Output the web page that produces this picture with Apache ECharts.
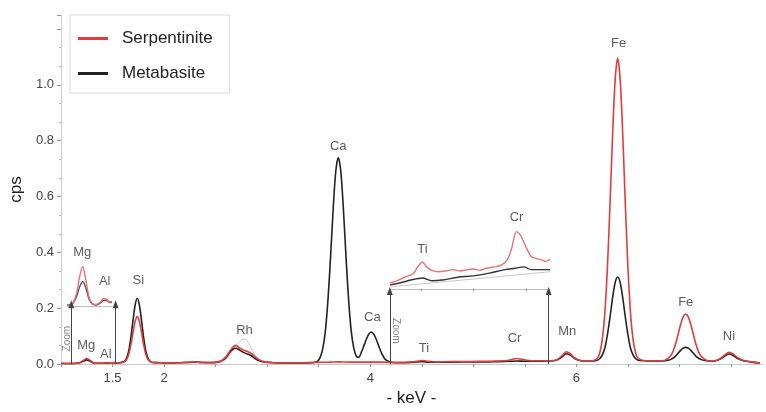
<!DOCTYPE html>
<html><head><meta charset="utf-8">
<script src="https://cdn.jsdelivr.net/npm/echarts@6/dist/echarts.min.js"></script>
<style>html,body{margin:0;background:#fff}#c{width:766px;height:412px}</style>
</head><body><div id="c"></div>
<script>
// ---- main spectra [keV, cps] ----
const serpentinite = [[1.00,0.003],[1.05,0.002],[1.10,0.002],[1.15,0.003],[1.19,0.007],[1.22,0.014],[1.25,0.020],[1.28,0.014],[1.31,0.006],[1.35,0.003],[1.40,0.003],[1.45,0.005],[1.49,0.005],[1.53,0.004],[1.58,0.005],[1.62,0.010],[1.64,0.019],[1.66,0.039],[1.68,0.073],[1.70,0.116],[1.72,0.154],[1.74,0.170],[1.76,0.154],[1.78,0.116],[1.80,0.073],[1.82,0.039],[1.84,0.019],[1.86,0.010],[1.89,0.006],[1.95,0.005],[2.05,0.004],[2.15,0.005],[2.25,0.007],[2.30,0.008],[2.35,0.006],[2.45,0.006],[2.52,0.008],[2.56,0.013],[2.60,0.026],[2.64,0.048],[2.67,0.062],[2.70,0.066],[2.73,0.059],[2.77,0.050],[2.81,0.045],[2.85,0.037],[2.89,0.024],[2.93,0.014],[2.98,0.008],[3.05,0.006],[3.15,0.005],[3.30,0.005],[3.45,0.006],[3.60,0.007],[3.70,0.008],[3.80,0.007],[3.95,0.007],[4.10,0.007],[4.25,0.006],[4.40,0.008],[4.47,0.011],[4.51,0.013],[4.56,0.010],[4.65,0.008],[4.80,0.009],[4.95,0.009],[5.10,0.010],[5.25,0.011],[5.33,0.013],[5.38,0.017],[5.42,0.020],[5.46,0.018],[5.52,0.014],[5.60,0.012],[5.70,0.012],[5.78,0.013],[5.82,0.018],[5.86,0.030],[5.90,0.044],[5.94,0.037],[5.98,0.023],[6.03,0.014],[6.10,0.012],[6.15,0.012],[6.20,0.019],[6.225,0.039],[6.25,0.086],[6.275,0.180],[6.30,0.342],[6.325,0.565],[6.35,0.814],[6.375,1.015],[6.40,1.096],[6.425,1.015],[6.45,0.814],[6.475,0.565],[6.50,0.342],[6.525,0.180],[6.55,0.086],[6.575,0.039],[6.60,0.020],[6.65,0.013],[6.72,0.012],[6.80,0.012],[6.86,0.014],[6.91,0.028],[6.935,0.044],[6.96,0.070],[6.985,0.105],[7.01,0.141],[7.035,0.169],[7.06,0.179],[7.085,0.169],[7.11,0.141],[7.135,0.105],[7.16,0.070],[7.185,0.044],[7.21,0.028],[7.26,0.014],[7.31,0.012],[7.36,0.014],[7.40,0.021],[7.44,0.033],[7.48,0.042],[7.52,0.036],[7.56,0.024],[7.62,0.013],[7.70,0.008],[7.78,0.004]];

const metabasite = [[1.00,0.003],[1.05,0.002],[1.10,0.002],[1.15,0.003],[1.19,0.006],[1.22,0.011],[1.25,0.015],[1.28,0.011],[1.31,0.005],[1.35,0.003],[1.40,0.003],[1.45,0.004],[1.49,0.005],[1.53,0.004],[1.58,0.006],[1.62,0.011],[1.64,0.025],[1.66,0.052],[1.68,0.100],[1.70,0.160],[1.72,0.213],[1.74,0.236],[1.76,0.213],[1.78,0.160],[1.80,0.100],[1.82,0.052],[1.84,0.025],[1.86,0.011],[1.89,0.006],[1.95,0.005],[2.05,0.004],[2.15,0.005],[2.25,0.006],[2.30,0.007],[2.35,0.006],[2.45,0.005],[2.52,0.007],[2.56,0.012],[2.60,0.023],[2.64,0.043],[2.67,0.054],[2.70,0.057],[2.73,0.051],[2.77,0.042],[2.81,0.036],[2.85,0.029],[2.89,0.018],[2.93,0.011],[2.98,0.007],[3.05,0.005],[3.15,0.004],[3.30,0.004],[3.44,0.005],[3.49,0.011],[3.515,0.025],[3.54,0.056],[3.565,0.120],[3.59,0.231],[3.615,0.383],[3.64,0.552],[3.665,0.688],[3.69,0.740],[3.715,0.688],[3.74,0.552],[3.765,0.383],[3.79,0.231],[3.815,0.120],[3.84,0.058],[3.865,0.028],[3.89,0.024],[3.91,0.039],[3.935,0.062],[3.96,0.087],[3.985,0.107],[4.01,0.115],[4.035,0.107],[4.06,0.087],[4.085,0.062],[4.11,0.039],[4.135,0.022],[4.16,0.013],[4.21,0.006],[4.30,0.005],[4.40,0.006],[4.47,0.008],[4.51,0.009],[4.56,0.007],[4.65,0.007],[4.80,0.007],[4.95,0.008],[5.10,0.008],[5.25,0.009],[5.35,0.010],[5.42,0.011],[5.50,0.010],[5.60,0.010],[5.70,0.011],[5.78,0.012],[5.82,0.016],[5.86,0.026],[5.90,0.037],[5.94,0.032],[5.98,0.021],[6.03,0.013],[6.10,0.011],[6.15,0.011],[6.20,0.014],[6.225,0.019],[6.25,0.032],[6.275,0.057],[6.30,0.104],[6.325,0.166],[6.35,0.235],[6.375,0.291],[6.40,0.312],[6.425,0.291],[6.45,0.235],[6.475,0.166],[6.50,0.104],[6.525,0.057],[6.55,0.032],[6.575,0.019],[6.60,0.014],[6.65,0.012],[6.72,0.011],[6.80,0.011],[6.86,0.012],[6.91,0.016],[6.96,0.028],[7.01,0.049],[7.035,0.057],[7.06,0.060],[7.085,0.057],[7.11,0.049],[7.16,0.028],[7.21,0.016],[7.26,0.012],[7.31,0.011],[7.36,0.013],[7.40,0.019],[7.44,0.029],[7.48,0.036],[7.52,0.031],[7.56,0.021],[7.62,0.012],[7.70,0.007],[7.78,0.004]];

const rhReference = [[2.58,0.012],[2.63,0.030],[2.68,0.058],[2.73,0.080],[2.78,0.090],[2.82,0.074],[2.86,0.046],[2.90,0.024],[2.95,0.011]];

// ---- inset 1 (Mg/Al zoom), relative intensity ----
const insetMgSerp = [[1.10,0.02],[1.15,0.04],[1.19,0.24],[1.22,0.58],[1.25,0.79],[1.28,0.52],[1.31,0.18],[1.34,0.05],[1.38,0.03],[1.42,0.08],[1.45,0.15],[1.48,0.13],[1.51,0.08],[1.53,0.10]];
const insetMgMeta = [[1.10,0.02],[1.15,0.04],[1.19,0.18],[1.22,0.38],[1.25,0.49],[1.28,0.36],[1.31,0.14],[1.34,0.04],[1.38,0.02],[1.42,0.06],[1.45,0.11],[1.48,0.11],[1.51,0.07],[1.53,0.08]];

// ---- inset 2 (Ti/Cr zoom), relative intensity ----
const insetCrSerp = [[4.20,0.09],[4.27,0.12],[4.34,0.17],[4.42,0.22],[4.47,0.33],[4.51,0.39],[4.55,0.32],[4.60,0.27],[4.66,0.25],[4.73,0.26],[4.80,0.28],[4.87,0.26],[4.94,0.28],[5.00,0.29],[5.06,0.27],[5.12,0.30],[5.20,0.32],[5.27,0.35],[5.32,0.42],[5.36,0.57],[5.41,0.83],[5.45,0.77],[5.50,0.61],[5.55,0.47],[5.60,0.44],[5.65,0.42],[5.69,0.40],[5.73,0.43]];
const insetCrMeta = [[4.20,0.06],[4.30,0.09],[4.40,0.13],[4.51,0.16],[4.60,0.12],[4.70,0.13],[4.85,0.17],[5.00,0.19],[5.15,0.23],[5.30,0.28],[5.40,0.30],[5.48,0.32],[5.55,0.28],[5.65,0.28],[5.73,0.28]];
const insetCrBackground = [[4.20,0.03],[5.73,0.25]];

// ---- ticks, labels ----
const xTickLabels = ['1.5','2','4','6'];
const yTickLabels = ['0.0','0.2','0.4','0.6','0.8','1.0'];
const peakLabels = [['Mg',1.245,0.068],['Al',1.435,0.036],['Si',1.75,0.30],['Rh',2.78,0.12],['Ca',3.69,0.78],['Ca',4.02,0.168],['Ti',4.52,0.056],['Cr',5.40,0.091],['Mn',5.91,0.116],['Fe',6.41,1.15],['Fe',7.06,0.22],['Ni',7.48,0.10]];
const insetMgLabels = [['Mg',1.245,1.08],['Al',1.46,0.49]];
const insetCrLabels = [['Ti',4.51,0.57],['Cr',5.41,1.04]];
const zoomWindows = [[1.10,1.53],[4.19,5.73]];
const zoomNotes = [['Zoom',1.058,0.091,90],['Zoom',4.25,0.119,-90]];

const RED = '#e23b3d', BLACK = '#222222';
const FONT = '"Liberation Sans", Arial, sans-serif';

const chart = echarts.init(document.getElementById('c'));
const lbl = arr => arr.map(a => ({name: a[0], value: [a[1], a[2]]}));
const labelSeries = (data, xi, yi, size) => ({
  type: 'scatter', xAxisIndex: xi, yAxisIndex: yi, data: lbl(data), symbolSize: 1, clip: false,
  itemStyle: {color: 'rgba(0,0,0,0)'}, silent: true, z: 5,
  label: {show: true, position: 'inside', formatter: p => p.name, color: '#333', fontSize: size, fontFamily: FONT}
});
const arrowHeights = [0.214, 0.262];
const arrows = [];
zoomWindows.forEach((w, i) => w.forEach(x => arrows.push([{coord: [x, 0]}, {coord: [x, arrowHeights[i]]}])));

chart.setOption({
  animation: false,
  textStyle: {fontFamily: FONT},
  legend: {
    data: ['Serpentinite', 'Metabasite'], orient: 'vertical', left: 70, top: 15,
    padding: [15, 17, 11, 8], itemGap: 18, itemWidth: 30, itemHeight: 3, icon: 'rect',
    backgroundColor: '#fff', borderColor: '#dcdcdc', borderWidth: 1,
    textStyle: {fontSize: 17, color: '#222', fontFamily: FONT, padding: [0, 0, 0, 9]}
  },
  grid: [
    {left: 57, right: 4, top: 15, bottom: 41},
    {left: 67, width: 45, top: 246, height: 60},
    {left: 390, width: 160, top: 206, height: 83}
  ],
  xAxis: [
    {type: 'value', gridIndex: 0, min: 1.0, max: 7.8, interval: 0.5,
     name: '- keV -', nameLocation: 'middle', nameGap: 24,
     nameTextStyle: {fontSize: 17, color: '#222', fontFamily: FONT},
     axisLine: {lineStyle: {color: '#c8c8c8'}}, axisTick: {length: 3, lineStyle: {color: '#999'}},
     splitLine: {show: false},
     axisLabel: {fontSize: 13, color: '#444', margin: 8, showMaxLabel: false,
       formatter: v => xTickLabels.includes(String(v)) ? String(v) : ''}},
    {type: 'value', gridIndex: 1, min: 1.10, max: 1.53, axisLine: {lineStyle: {color: '#bbb'}},
     axisTick: {show: false}, axisLabel: {show: false}, splitLine: {show: false}},
    {type: 'value', gridIndex: 2, min: 4.2, max: 5.73, axisLine: {lineStyle: {color: '#bbb'}},
     axisTick: {show: true, length: 2, customValues: [4.5, 5.0, 5.5], lineStyle: {color: '#999'}},
     axisLabel: {show: false}, splitLine: {show: false}}
  ],
  yAxis: [
    {type: 'value', gridIndex: 0, min: 0, max: 1.25, interval: 0.2,
     name: 'cps', nameLocation: 'middle', nameGap: 28,
     nameTextStyle: {fontSize: 17, color: '#222', fontFamily: FONT},
     axisLine: {show: true, lineStyle: {color: '#d0d0d0'}},
     axisTick: {show: true, length: 4, lineStyle: {color: '#999'}},
     minorTick: {show: true, splitNumber: 3, length: 2, lineStyle: {color: '#bbb'}},
     splitLine: {show: false},
     axisLabel: {fontSize: 13, color: '#444', margin: 7,
       formatter: v => { const s = v.toFixed(1); return yTickLabels.includes(s) ? s : ''; }}},
    {type: 'value', gridIndex: 1, min: 0, max: 1.2, show: false},
    {type: 'value', gridIndex: 2, min: 0, max: 1.2, show: false}
  ],
  series: [
    {name: 'Rh ref', type: 'line', data: rhReference, showSymbol: false, smooth: 0.4,
     lineStyle: {color: '#c4c4c4', width: 1}, itemStyle: {color: '#c4c4c4'}, z: 1},
    {name: 'Metabasite', type: 'line', data: metabasite, showSymbol: false, smooth: 0.3,
     lineStyle: {color: BLACK, width: 1.6}, itemStyle: {color: BLACK}, z: 2},
    {name: 'Serpentinite', type: 'line', data: serpentinite, showSymbol: false, smooth: 0.3,
     lineStyle: {color: RED, width: 1.6}, itemStyle: {color: RED}, z: 3,
     markLine: {silent: true, symbol: ['none', 'triangle'], symbolSize: [6, 8], animation: false,
       label: {show: false}, lineStyle: {color: '#444', width: 1, type: 'solid'},
       emphasis: {disabled: true}, data: arrows}},
    {name: 'MgS', type: 'line', xAxisIndex: 1, yAxisIndex: 1, data: insetMgSerp, showSymbol: false, smooth: 0.3,
     lineStyle: {color: '#e8707a', width: 1.4}, z: 3},
    {name: 'MgM', type: 'line', xAxisIndex: 1, yAxisIndex: 1, data: insetMgMeta, showSymbol: false, smooth: 0.3,
     lineStyle: {color: '#555', width: 1.4}, z: 2},
    {name: 'CrBg', type: 'line', xAxisIndex: 2, yAxisIndex: 2, data: insetCrBackground, showSymbol: false,
     lineStyle: {color: '#c8c8c8', width: 1}, z: 1},
    {name: 'CrM', type: 'line', xAxisIndex: 2, yAxisIndex: 2, data: insetCrMeta, showSymbol: false, smooth: 0.3,
     lineStyle: {color: '#333', width: 1.4}, z: 2},
    {name: 'CrS', type: 'line', xAxisIndex: 2, yAxisIndex: 2, data: insetCrSerp, showSymbol: false, smooth: 0.3,
     lineStyle: {color: '#e8707a', width: 1.4}, z: 3},
    labelSeries(peakLabels, 0, 0, 13),
    labelSeries(insetMgLabels, 1, 1, 13),
    labelSeries(insetCrLabels, 2, 2, 13),
    {type: 'scatter', xAxisIndex: 0, yAxisIndex: 0, symbolSize: 1, itemStyle: {color: 'rgba(0,0,0,0)'}, silent: true, clip: false, z: 5,
     data: zoomNotes.map(a => ({name: a[0], value: [a[1], a[2]], label: {rotate: a[3]}})),
     label: {show: true, position: 'inside', formatter: p => p.name, color: '#666', fontSize: 10, fontFamily: FONT}}
  ]
});
</script></body></html>
